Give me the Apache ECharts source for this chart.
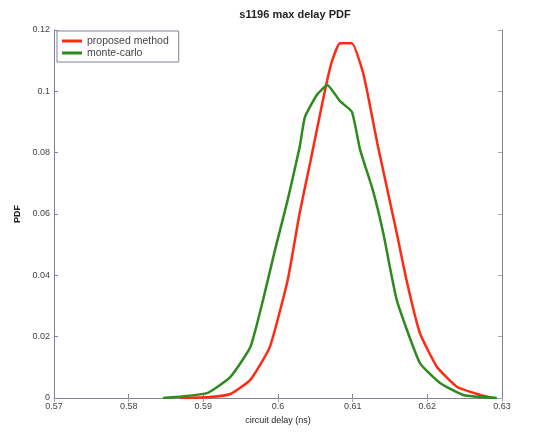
<!DOCTYPE html>
<html>
<head>
<meta charset="utf-8">
<script src="https://cdn.jsdelivr.net/npm/echarts@6/dist/echarts.min.js"></script>
<style>html,body{margin:0;padding:0;background:#fff;}#c{width:538px;height:432px;}</style>
</head>
<body>
<div id="c"></div>
<script>
var xTicks = [0.57, 0.58, 0.59, 0.60, 0.61, 0.62, 0.63];
var yTicks = [0, 0.02, 0.04, 0.06, 0.08, 0.10, 0.12];

var proposedX = [0.5869, 0.5909, 0.5936, 0.5963, 0.5989, 0.6013, 0.6029, 0.6043, 0.6052, 0.6063, 0.6072, 0.6083, 0.6099, 0.6113, 0.6121, 0.6133, 0.6159, 0.6173, 0.6190, 0.6213, 0.6240, 0.6271, 0.6288];
var proposedY = [0.0000, 0.0003, 0.0013, 0.0059, 0.0166, 0.0385, 0.0603, 0.0766, 0.0874, 0.1004, 0.1096, 0.1157, 0.1157, 0.1069, 0.0981, 0.0831, 0.0538, 0.0375, 0.0212, 0.0101, 0.0036, 0.0010, 0.0000];

var monteX = [0.5846, 0.5905, 0.5936, 0.5963, 0.5980, 0.5996, 0.6013, 0.6029, 0.6036, 0.6052, 0.6066, 0.6083, 0.6099, 0.6110, 0.6127, 0.6141, 0.6159, 0.6190, 0.6217, 0.6248, 0.6293];
var monteY = [0.0000, 0.0016, 0.0068, 0.0166, 0.0320, 0.0483, 0.0646, 0.0818, 0.0916, 0.0988, 0.1021, 0.0968, 0.0933, 0.0809, 0.0678, 0.0538, 0.0320, 0.0114, 0.0049, 0.0010, 0.0000];

function pairs(xs, ys) { return xs.map(function (x, i) { return [x, ys[i]]; }); }

var axisCol = '#7f8296';
var txtCol = '#444';
var font = 'Liberation Sans, Arial, sans-serif';
var fmt = function (v) { return String(parseFloat(v.toFixed(3))); };

var chart = echarts.init(document.getElementById('c'));
chart.setOption({
  backgroundColor: '#fff',
  animation: false,
  title: {
    text: 's1196 max delay PDF',
    left: 290, top: 4, textAlign: 'center',
    textStyle: { fontFamily: font, fontSize: 11, fontWeight: 'bold', color: '#222' }
  },
  legend: {
    left: 57, top: 31, orient: 'vertical',
    borderColor: axisCol, borderWidth: 1, padding: [4, 10, 3, 5],
    icon: 'rect', itemWidth: 20, itemHeight: 3, itemGap: 0,
    textStyle: { fontFamily: font, fontSize: 10.5, lineHeight: 12, color: txtCol },
    data: ['proposed method', 'monte-carlo']
  },
  grid: { left: 54, right: 36, top: 30, bottom: 34 },
  xAxis: [{
    type: 'value', min: xTicks[0], max: xTicks[xTicks.length - 1], interval: 0.01,
    name: 'circuit delay (ns)', nameLocation: 'middle', nameGap: 17,
    nameTextStyle: { fontFamily: font, fontSize: 9, color: '#222' },
    axisLine: { show: true, onZero: false, lineStyle: { color: axisCol, width: 1 } },
    axisTick: { show: true, inside: true, length: 4, lineStyle: { color: axisCol } },
    axisLabel: { formatter: fmt, fontFamily: font, fontSize: 9, color: txtCol, margin: 4 },
    splitLine: { show: false }
  }, {
    type: 'value', position: 'top', min: xTicks[0], max: xTicks[xTicks.length - 1], interval: 0.01,
    axisLine: { show: false },
    axisTick: { show: true, inside: true, length: 4, lineStyle: { color: '#aaa' } },
    axisLabel: { show: false }, splitLine: { show: false }
  }],
  yAxis: [{
    type: 'value', min: yTicks[0], max: yTicks[yTicks.length - 1], interval: 0.02,
    name: 'PDF', nameLocation: 'middle', nameGap: 30, nameRotate: 90,
    nameTextStyle: { fontFamily: font, fontSize: 9, fontWeight: 'bold', color: '#222' },
    axisLine: { show: true, lineStyle: { color: axisCol, width: 1 } },
    axisTick: { show: true, inside: true, length: 4, lineStyle: { color: axisCol } },
    axisLabel: { formatter: fmt, fontFamily: font, fontSize: 9, color: txtCol, margin: 4 },
    splitLine: { show: false }
  }, {
    type: 'value', position: 'right', min: yTicks[0], max: yTicks[yTicks.length - 1], interval: 0.02,
    axisLine: { show: true, lineStyle: { color: axisCol, width: 1 } },
    axisTick: { show: true, inside: true, length: 4, lineStyle: { color: '#aaa' } },
    axisLabel: { show: false }, splitLine: { show: false }
  }],
  series: [{
    name: 'proposed method', type: 'line', symbol: 'none', smooth: 0.15,
    lineStyle: { color: '#ff2a14', width: 2.5 }, itemStyle: { color: '#ff2a14' },
    data: pairs(proposedX, proposedY)
  }, {
    name: 'monte-carlo', type: 'line', symbol: 'none', smooth: 0.15,
    lineStyle: { color: '#2e8a1e', width: 2.5 }, itemStyle: { color: '#2e8a1e' },
    data: pairs(monteX, monteY)
  }]
});
</script>
</body>
</html>
